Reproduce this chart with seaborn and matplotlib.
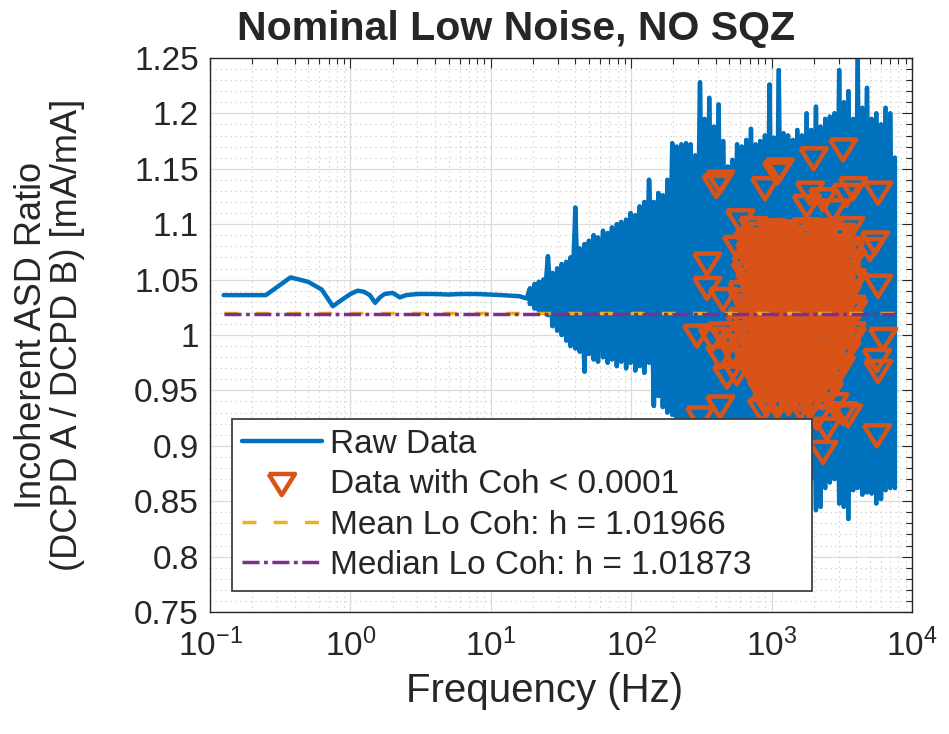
import numpy as np
import matplotlib
matplotlib.use("Agg")
import matplotlib.pyplot as plt
import seaborn as sns
from matplotlib.ticker import LogLocator, MultipleLocator, NullFormatter, FuncFormatter

# --- data ---
# smooth low-frequency part (Hz, ratio)
low_freq = [0.125, 0.25, 0.375, 0.5, 0.625, 0.75, 0.875, 1.0, 1.125, 1.25, 1.375,
            1.5, 1.625, 1.75, 2.0, 2.25, 2.5, 3, 4, 5, 6, 8, 10, 12, 14, 16, 18]
low_val = [1.036, 1.036, 1.052, 1.048, 1.041, 1.026, 1.032, 1.037, 1.040, 1.039, 1.036,
           1.029, 1.034, 1.037, 1.038, 1.034, 1.036, 1.037, 1.037, 1.0365, 1.037, 1.037,
           1.0365, 1.036, 1.0355, 1.035, 1.033]

# noisy part: for each frequency the top and bottom of the swing
noise_freq = [19, 20.5, 22, 23.7, 25.5, 27.5, 29.7, 32, 34.5, 37,
              40, 43, 46.5, 50, 54, 58, 63, 68, 73, 79,
              85, 92, 99, 107, 115, 124, 134, 145, 156, 168,
              181, 196, 211, 228, 246, 265, 286, 309, 333, 360,
              388, 419, 452, 488, 526, 568, 613, 661, 713, 770,
              830, 896, 967, 1040, 1125, 1215, 1310, 1415, 1525, 1645,
              1775, 1915, 2070, 2230, 2410, 2600, 2805, 3030, 3270, 3525,
              3805, 4105, 4430, 4780, 5160, 5570, 6010, 6480, 7000, 7550]
noise_hi = [1.042, 1.046, 1.048, 1.050, 1.071, 1.056, 1.060, 1.064, 1.066, 1.070,
            1.115, 1.078, 1.082, 1.085, 1.090, 1.088, 1.094, 1.092, 1.097, 1.100,
            1.102, 1.104, 1.110, 1.108, 1.116, 1.120, 1.140, 1.120, 1.128, 1.126,
            1.140, 1.173, 1.170, 1.172, 1.173, 1.172, 1.162, 1.228, 1.195, 1.214,
            1.188, 1.208, 1.175, 1.152, 1.158, 1.172, 1.170, 1.176, 1.186, 1.172,
            1.175, 1.180, 1.226, 1.178, 1.239, 1.182, 1.180, 1.176, 1.185, 1.180,
            1.200, 1.185, 1.206, 1.188, 1.195, 1.197, 1.200, 1.239, 1.210, 1.220,
            1.195, 1.250, 1.205, 1.223, 1.195, 1.200, 1.190, 1.205, 1.200, 1.160]
noise_lo = [1.028, 1.024, 1.022, 1.020, 1.018, 1.008, 1.004, 1.000, 0.995, 0.990,
            0.988, 0.985, 0.967, 0.983, 0.978, 0.976, 0.980, 0.975, 0.978, 0.972,
            0.976, 0.970, 0.975, 0.968, 0.972, 0.966, 0.975, 0.936, 0.945, 0.935,
            0.930, 0.928, 0.915, 0.910, 0.905, 0.900, 0.898, 0.895, 0.892, 0.890,
            0.888, 0.885, 0.885, 0.880, 0.878, 0.876, 0.875, 0.872, 0.870, 0.868,
            0.866, 0.865, 0.862, 0.860, 0.860, 0.858, 0.856, 0.856, 0.858, 0.860,
            0.860, 0.870, 0.842, 0.845, 0.862, 0.867, 0.870, 0.848, 0.845, 0.834,
            0.860, 0.862, 0.856, 0.858, 0.857, 0.848, 0.852, 0.860, 0.862, 0.862]

# low coherence points, scattered ones
outlier_freq = [404, 429, 898, 1092, 1990, 3228, 5730, 1140,
                596, 738, 680, 566, 347, 347, 450,
                5445, 5010, 5730,
                1875, 2323, 3800, 3400, 2735, 3614, 1780,
                294, 380, 440, 481, 531, 429, 566, 480,
                6210, 5620, 5730,
                429, 309, 850,
                5620, 2477, 2323, 3228, 2100, 3500, 2800]
outlier_val = [1.134, 1.138, 1.132, 1.146, 1.159, 1.167, 1.128, 1.149,
               1.103, 1.096, 1.083, 1.079, 1.064, 1.042, 1.032,
               1.083, 1.077, 1.044,
               1.128, 1.122, 1.132, 1.126, 1.112, 1.096, 1.116,
               0.999, 0.996, 1.001, 0.996, 0.983, 0.980, 0.965, 0.962,
               0.996, 0.977, 0.967,
               0.935, 0.925, 0.932,
               0.909, 0.915, 0.894, 0.929, 0.925, 0.927, 0.937]

# low coherence points, dense cluster around 1-3 kHz
cluster_freq = [850, 1000, 1200, 1450, 1750, 2100, 2550, 3100,
                760, 920, 1100, 1320, 1600, 1900, 2300, 2800,
                760, 920, 1100, 1320, 1600, 1900, 2300, 2800, 3400,
                700, 850, 1000, 1200, 1450, 1750, 2100, 2550, 3100, 3600,
                700, 850, 1000, 1200, 1450, 1750, 2100, 2550, 3100, 3700,
                660, 780, 920, 1100, 1320, 1600, 1900, 2300, 2800, 3400,
                650, 780, 920, 1100, 1320, 1600, 1900, 2300, 2800, 3400,
                700, 850, 1000, 1200, 1450, 1750, 2100, 2550, 3100, 3700,
                700, 850, 1000, 1200, 1450, 1750, 2100, 2550, 3100, 3800,
                620, 760, 920, 1100, 1320, 1600, 1900, 2300, 2800, 3400,
                620, 760, 920, 1100, 1320, 1600, 1900, 2300, 2800, 3400,
                680, 850, 1000, 1200, 1450, 1750, 2100, 2550, 3100, 3700,
                680, 850, 1000, 1200, 1450, 1750, 2100, 2550, 3100, 3800,
                620, 760, 920, 1100, 1320, 1600, 1900, 2300, 2800, 3400,
                600, 760, 920, 1100, 1320, 1600, 1900, 2300, 2800, 3400,
                680, 850, 1000, 1200, 1450, 1750, 2100, 2550, 3100, 3700,
                680, 850, 1000, 1200, 1450, 1750, 2100, 2550, 3100, 3700,
                620, 760, 920, 1100, 1320, 1600, 1900, 2300, 2800, 3400,
                620, 760, 920, 1100, 1320, 1600, 1900, 2300, 2800, 3400,
                700, 850, 1000, 1200, 1450, 1750, 2100, 2550, 3100,
                700, 850, 1000, 1200, 1450, 1750, 2100, 2550, 3100,
                760, 920, 1100, 1320, 1600, 1900, 2300, 2800,
                760, 920, 1100, 1320, 1600, 1900, 2300, 2800,
                850, 1000, 1200, 1450, 1750, 2100, 2550,
                850, 1000, 1200, 1450, 1750, 2100, 2550,
                920, 1100, 1320, 1600, 1900, 2300,
                920, 1100, 1320, 1600, 1900]
cluster_val = [1.091, 1.094, 1.090, 1.093, 1.095, 1.091, 1.094, 1.090,
               1.086, 1.085, 1.087, 1.084, 1.086, 1.088, 1.085, 1.087,
               1.080, 1.078, 1.082, 1.079, 1.081, 1.077, 1.082, 1.080, 1.078,
               1.073, 1.075, 1.072, 1.074, 1.076, 1.073, 1.075, 1.072, 1.074, 1.073,
               1.067, 1.069, 1.066, 1.070, 1.068, 1.065, 1.069, 1.067, 1.070, 1.066,
               1.061, 1.063, 1.062, 1.060, 1.063, 1.061, 1.062, 1.064, 1.061, 1.062,
               1.055, 1.057, 1.054, 1.058, 1.056, 1.053, 1.057, 1.055, 1.058, 1.054,
               1.050, 1.049, 1.051, 1.050, 1.048, 1.051, 1.049, 1.050, 1.052, 1.049,
               1.045, 1.043, 1.046, 1.042, 1.044, 1.047, 1.043, 1.045, 1.042, 1.046,
               1.038, 1.037, 1.039, 1.038, 1.036, 1.039, 1.037, 1.038, 1.040, 1.037,
               1.031, 1.034, 1.030, 1.033, 1.032, 1.035, 1.031, 1.033, 1.030, 1.034,
               1.026, 1.025, 1.027, 1.026, 1.024, 1.027, 1.025, 1.026, 1.028, 1.025,
               1.021, 1.018, 1.022, 1.019, 1.021, 1.018, 1.022, 1.020, 1.019, 1.021,
               1.014, 1.013, 1.015, 1.014, 1.012, 1.015, 1.013, 1.014, 1.016, 1.013,
               1.007, 1.009, 1.006, 1.010, 1.007, 1.009, 1.006, 1.008, 1.010, 1.007,
               1.002, 1.001, 1.003, 1.002, 1.000, 1.003, 1.001, 1.002, 1.004, 1.001,
               0.997, 0.995, 0.998, 0.994, 0.996, 0.998, 0.995, 0.997, 0.994, 0.996,
               0.990, 0.989, 0.991, 0.990, 0.988, 0.991, 0.989, 0.990, 0.992, 0.989,
               0.985, 0.983, 0.986, 0.982, 0.984, 0.986, 0.983, 0.985, 0.982, 0.984,
               0.978, 0.977, 0.979, 0.978, 0.976, 0.979, 0.977, 0.978, 0.980,
               0.973, 0.971, 0.974, 0.970, 0.972, 0.974, 0.971, 0.973, 0.970,
               0.966, 0.965, 0.967, 0.966, 0.964, 0.967, 0.965, 0.966,
               0.961, 0.959, 0.962, 0.958, 0.960, 0.962, 0.959, 0.961,
               0.954, 0.953, 0.955, 0.954, 0.952, 0.955, 0.953,
               0.949, 0.947, 0.950, 0.946, 0.948, 0.950, 0.947,
               0.942, 0.941, 0.943, 0.942, 0.940, 0.943,
               0.937, 0.935, 0.938, 0.934, 0.936]

mean_h = 1.01966
median_h = 1.01873

blue = "#0072BD"
orange = "#D95319"
yellow = "#EDB120"
purple = "#7E2F8E"

sns.set_theme(style="white")
plt.rcParams['font.family'] = ['Liberation Sans', 'DejaVu Sans']
plt.rcParams['mathtext.fontset'] = 'custom'
plt.rcParams['mathtext.rm'] = 'Liberation Sans'
plt.rcParams['mathtext.it'] = 'Liberation Sans:italic'
plt.rcParams['mathtext.bf'] = 'Liberation Sans:bold'

fig, ax = plt.subplots(figsize=(9.49, 7.34), dpi=100)
fig.subplots_adjust(left=0.2213, right=0.961, bottom=0.1662, top=0.921)
ax.set_xscale('log')

# raw trace: low part, then up/down swing at each noisy frequency
raw_freq = low_freq + [f for f in noise_freq for _ in (0, 1)]
raw_val = low_val + [v for pair in zip(noise_hi, noise_lo) for v in pair]
sns.lineplot(x=raw_freq, y=raw_val, estimator=None, sort=False, color=blue,
             lw=3.2, ax=ax, zorder=2, legend=False)
raw_line = ax.lines[-1]
# same swings walked the other way round, so the band reads solid
swing_freq = [f for f in noise_freq for _ in (0, 1)]
swing_val = [v for pair in zip(noise_lo, noise_hi) for v in pair]
sns.lineplot(x=swing_freq, y=swing_val, estimator=None, sort=False, color=blue,
             lw=3.2, ax=ax, zorder=2, legend=False)

tri_marker = [(-1, 0.8), (1, 0.8), (0, -0.8), (-1, 0.8)]
sns.scatterplot(x=outlier_freq + cluster_freq, y=outlier_val + cluster_val,
                marker=tri_marker, s=360, color=orange, facecolors='none',
                edgecolor=orange, linewidth=3.2, ax=ax, zorder=3, legend=False)
tri_pts = ax.collections[-1]

line_freq = [low_freq[0], noise_freq[-1]]
sns.lineplot(x=line_freq, y=[mean_h, mean_h], color=yellow, lw=2.5,
             linestyle=(0, (4, 5)), ax=ax, zorder=4, legend=False)
mean_line = ax.lines[-1]
sns.lineplot(x=line_freq, y=[median_h, median_h], color=purple, lw=2.5,
             linestyle=(0, (4.9, 1.3, 1.1, 1.3)), ax=ax, zorder=5, legend=False)
median_line = ax.lines[-1]

ax.set_xlim(0.1, 1e4)
ax.set_ylim(0.75, 1.25)

ax.xaxis.set_major_locator(LogLocator(base=10, numticks=10))
ax.xaxis.set_minor_locator(LogLocator(base=10, subs=np.arange(2, 10), numticks=50))
ax.xaxis.set_minor_formatter(NullFormatter())
ax.xaxis.set_major_formatter(FuncFormatter(lambda v, p: r"$10^{%d}$" % round(np.log10(v))))
ax.yaxis.set_major_locator(MultipleLocator(0.05))
ax.yaxis.set_minor_locator(MultipleLocator(0.01))
ax.yaxis.set_major_formatter(FuncFormatter(lambda v, p: "%g" % round(v, 2)))

ax.grid(True, which='major', color='#dcdcdc', lw=0.9, ls='-')
ax.grid(True, which='minor', color='#c4c4c4', lw=0.8, ls=(0, (1, 3.5)))
ax.set_axisbelow(True)

for s in ax.spines.values():
    s.set_color('#262626')
    s.set_linewidth(1.0)
ax.tick_params(which='both', direction='in', top=True, right=True, colors='#262626',
               labelcolor='#262626')
ax.tick_params(which='major', length=7, width=0.8, labelsize=24)
ax.tick_params(which='minor', length=4, width=0.8)
ax.tick_params(axis='x', which='major', pad=12)
ax.tick_params(axis='y', which='major', pad=8)

ax.set_title("Nominal Low Noise, NO SQZ", fontsize=29.5, fontweight='bold', pad=13, x=0.436)
ax.set_xlabel("Frequency (Hz)", fontsize=29, color='#262626', labelpad=6, x=0.477)
ax.set_ylabel("Incoherent ASD Ratio\n(DCPD A / DCPD B) [mA/mA]", fontsize=26,
              color='#262626', linespacing=1.05)
ax.yaxis.set_label_coords(-0.178, 0.5)

leg = ax.legend([raw_line, tri_pts, mean_line, median_line],
                ["Raw Data", "Data with Coh < 0.0001",
                 "Mean Lo Coh: h = 1.01966", "Median Lo Coh: h = 1.01873"],
                loc='lower left', bbox_to_anchor=(0.031, 0.038, 0.826, 0.3),
                mode='expand', borderaxespad=0,
                fontsize=24, handlelength=2.4, handletextpad=0.25, labelspacing=0.28,
                borderpad=0.3, fancybox=False, framealpha=1, edgecolor='#404040')
leg.get_frame().set_linewidth(1.3)

fig.savefig("out.png", dpi=100)
